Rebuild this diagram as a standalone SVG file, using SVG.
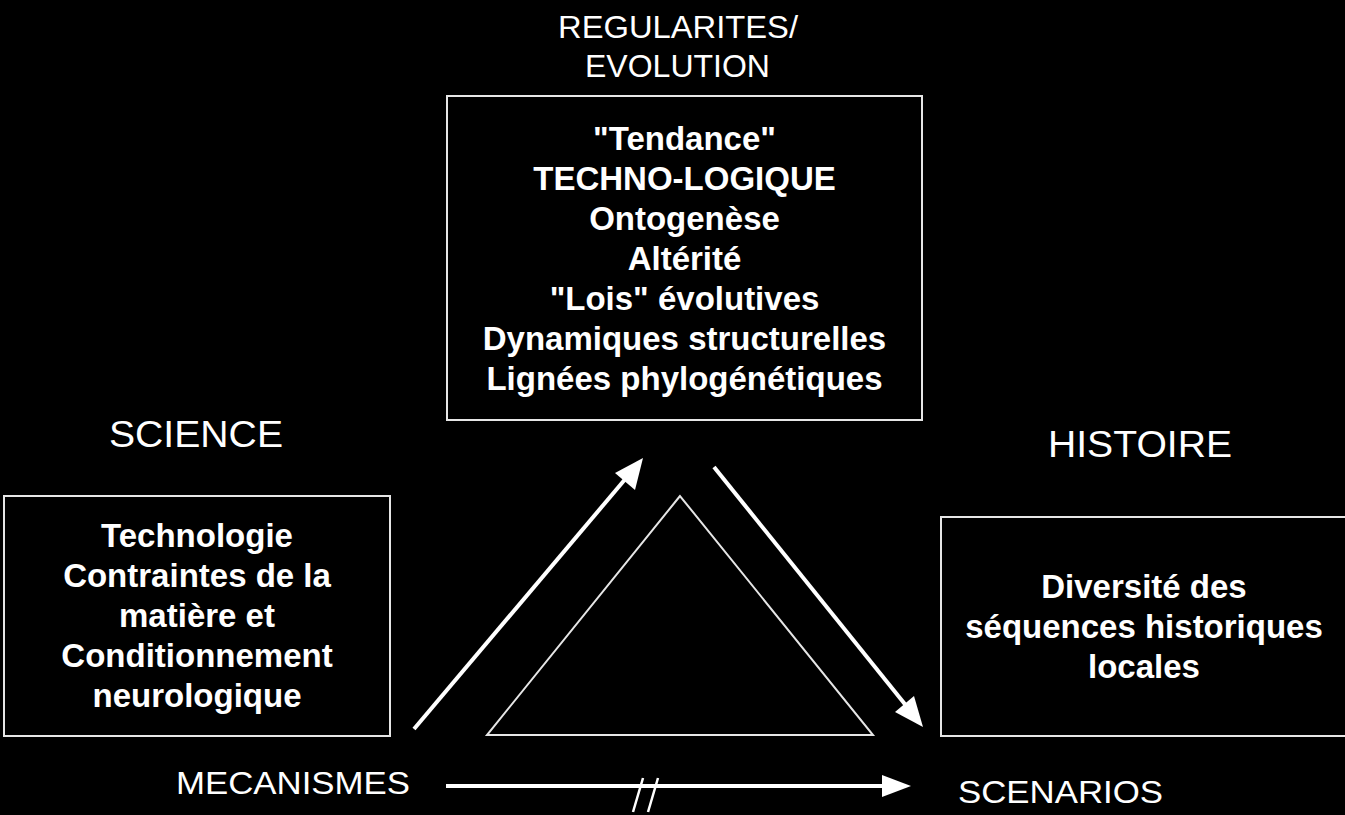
<svg xmlns="http://www.w3.org/2000/svg" width="1345" height="815" viewBox="0 0 1345 815">
  <defs>
    <style>
      .box { fill: #000; stroke: #e6e6e6; stroke-width: 2; }
      .lbl { font-family: "Liberation Sans", Arial, sans-serif; fill: #fff; }
      .bt { font-family: "Liberation Sans", Arial, sans-serif; font-weight: bold; font-size: 33px; fill: #fff; text-anchor: middle; }
      .conn { stroke: #fff; stroke-width: 4; fill: none; }
      .head { fill: #fff; stroke: none; }
    </style>
  </defs>
  <rect x="0" y="0" width="1345" height="815" fill="#000"/>

  <g id="label-regularites">
    <text class="lbl" x="558" y="38" font-size="31" textLength="240" lengthAdjust="spacingAndGlyphs">REGULARITES/</text>
    <text class="lbl" x="585" y="77" font-size="31" textLength="185" lengthAdjust="spacingAndGlyphs">EVOLUTION</text>
  </g>

  <g id="node-top">
    <rect class="box" x="447" y="96" width="475" height="324"/>
    <text class="bt" x="684.5" y="150">"Tendance"</text>
    <text class="bt" x="684.5" y="190">TECHNO-LOGIQUE</text>
    <text class="bt" x="684.5" y="230">Ontogenèse</text>
    <text class="bt" x="684.5" y="270">Altérité</text>
    <text class="bt" x="684.5" y="310">"Lois" évolutives</text>
    <text class="bt" x="684.5" y="350">Dynamiques structurelles</text>
    <text class="bt" x="684.5" y="390">Lignées phylogénétiques</text>
  </g>

  <g id="label-science">
    <text class="lbl" x="109" y="447" font-size="37" textLength="174" lengthAdjust="spacingAndGlyphs">SCIENCE</text>
  </g>

  <g id="node-left">
    <rect class="box" x="4" y="496" width="386" height="240"/>
    <text class="bt" x="197" y="547">Technologie</text>
    <text class="bt" x="197" y="587">Contraintes de la</text>
    <text class="bt" x="197" y="627">matière et</text>
    <text class="bt" x="197" y="667">Conditionnement</text>
    <text class="bt" x="197" y="707">neurologique</text>
  </g>

  <g id="label-histoire">
    <text class="lbl" x="1048" y="457" font-size="37" textLength="184" lengthAdjust="spacingAndGlyphs">HISTOIRE</text>
  </g>

  <g id="node-right">
    <rect class="box" x="941" y="517" width="410" height="219"/>
    <text class="bt" x="1144" y="598">Diversité des</text>
    <text class="bt" x="1144" y="638">séquences historiques</text>
    <text class="bt" x="1144" y="678">locales</text>
  </g>

  <g id="triangle">
    <polygon points="680,496 487,735 873,735" fill="none" stroke="#e6e6e6" stroke-width="2"/>
  </g>

  <g id="label-mecanismes">
    <text class="lbl" x="176" y="794" font-size="31" textLength="234" lengthAdjust="spacingAndGlyphs">MECANISMES</text>
  </g>

  <g id="label-scenarios">
    <text class="lbl" x="958" y="803" font-size="32" textLength="205" lengthAdjust="spacingAndGlyphs">SCENARIOS</text>
  </g>

  <g id="connectors">
    <line class="conn" x1="414" y1="729" x2="627" y2="477"/>
    <polygon class="head" points="643,458 615,473 635,490"/>
    <line class="conn" x1="714" y1="467" x2="908" y2="708"/>
    <polygon class="head" points="923,727 895,712 914,696"/>
    <line class="conn" x1="446" y1="786" x2="885" y2="786"/>
    <polygon class="head" points="911,786 882,775 882,797"/>
    <line x1="643" y1="778" x2="633" y2="812" stroke="#fff" stroke-width="2.5"/>
    <line x1="658" y1="778" x2="648" y2="812" stroke="#fff" stroke-width="2.5"/>
  </g>
</svg>
